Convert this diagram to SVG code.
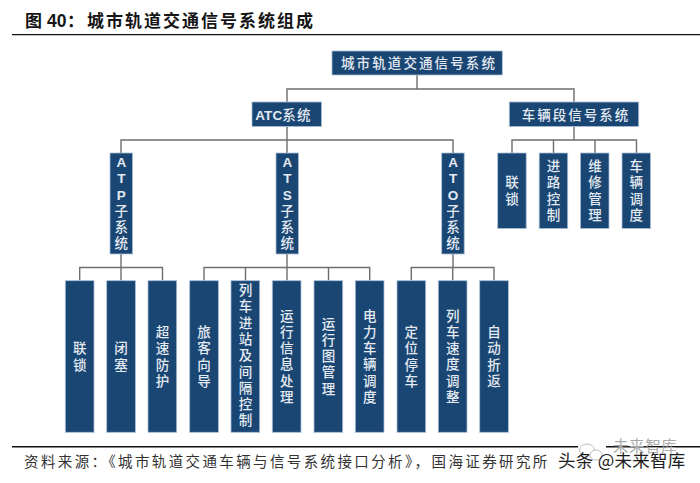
<svg xmlns="http://www.w3.org/2000/svg" width="700" height="483" viewBox="0 0 700 483">
<style>
text{font-family:"Noto Sans CJK SC","Noto Sans",sans-serif}
.n{fill:#1a4674;stroke:#a9bfd6;stroke-width:.8}
.t{fill:#e4eaf1;font-size:13.500px;font-weight:500;text-anchor:middle}
.l{font-weight:700;font-family:"Liberation Sans",sans-serif}
.c{fill:none;stroke:#6e6e6e;stroke-width:1.4}
.r{stroke:#111;stroke-width:1.4}
.w{fill:#fff;stroke:#b5b5b5;stroke-width:.9}
</style>
<rect width="700" height="483" fill="#fff"/>
<text y="26.500" font-size="17" font-weight="700" fill="#151515"><tspan x="25">图</tspan><tspan class="l" x="47" font-size="17.500">40</tspan><tspan x="67">：</tspan></text>
<text x="87" y="26.500" font-size="17" font-weight="700" fill="#151515" letter-spacing="2">城市轨道交通信号系统组成</text>
<line class="r" x1="12" y1="34.600" x2="700" y2="34.600"/>
<g id="connectors">
<path class="c" d="M417 75V89M287 102V89H574V102"/>
<path class="c" d="M287 126.500V153M121 153V140H453V153"/>
<path class="c" d="M574 126.500V140M512 153V140H636.500V153M553.500 140V153M595 140V153"/>
<path class="c" d="M121 254V267.500M79.700 280.700V267.500H162.500V280.700M121 267.500V280.700"/>
<path class="c" d="M287 254V267.500M204 280.700V267.500H369.700V280.700M245.500 267.500V280.700M287 267.500V280.700M328.500 267.500V280.700"/>
<path class="c" d="M453 254V267.500M411.300 280.700V267.500H494V280.700M452.700 267.500V280.700"/>
</g>
<g id="root"><rect class="n" x="332" y="51" width="170.300" height="24"/><text class="t" x="419" y="68" letter-spacing="2.100">城市轨道交通信号系统</text></g>
<g id="atc"><rect class="n" x="252" y="102" width="69.500" height="24.500"/><text class="t" x="283.500" y="119.500" letter-spacing="1.200"><tspan class="l" letter-spacing=".1">ATC</tspan>系统</text></g>
<g id="depot"><rect class="n" x="509.300" y="102" width="129.400" height="24.500"/><text class="t" x="576" y="119.500" letter-spacing="2">车辆段信号系统</text></g>
<g id="atp"><rect class="n" x="110" y="153" width="22.500" height="101"/><text class="t" y="167"><tspan class="l" x="121.300">A</tspan><tspan class="l" x="121.300" dy="16">T</tspan><tspan class="l" x="121.300" dy="16.500">P</tspan><tspan x="121.300" dy="16.500">子</tspan><tspan x="121.300" dy="16">系</tspan><tspan x="121.300" dy="16">统</tspan></text></g>
<g id="ats"><rect class="n" x="276" y="153" width="22.500" height="101"/><text class="t" y="167"><tspan class="l" x="287.300">A</tspan><tspan class="l" x="287.300" dy="16">T</tspan><tspan class="l" x="287.300" dy="16.500">S</tspan><tspan x="287.300" dy="16.500">子</tspan><tspan x="287.300" dy="16">系</tspan><tspan x="287.300" dy="16">统</tspan></text></g>
<g id="ato"><rect class="n" x="441.700" y="153" width="22.500" height="101"/><text class="t" y="167"><tspan class="l" x="453">A</tspan><tspan class="l" x="453" dy="16">T</tspan><tspan class="l" x="453" dy="16.500">O</tspan><tspan x="453" dy="16.500">子</tspan><tspan x="453" dy="16">系</tspan><tspan x="453" dy="16">统</tspan></text></g>
<g id="d1"><rect class="n" x="497.700" y="153" width="28.500" height="75.500"/><text class="t" y="187"><tspan x="512">联</tspan><tspan x="512" dy="16.500">锁</tspan></text></g>
<g id="d2"><rect class="n" x="539.200" y="153" width="28.500" height="75.500"/><text class="t" y="170.500"><tspan x="553.500">进</tspan><tspan x="553.500" dy="16.500">路</tspan><tspan x="553.500" dy="16.500">控</tspan><tspan x="553.500" dy="16.500">制</tspan></text></g>
<g id="d3"><rect class="n" x="580.500" y="153" width="28.500" height="75.500"/><text class="t" y="170.500"><tspan x="595">维</tspan><tspan x="595" dy="16.500">修</tspan><tspan x="595" dy="16.500">管</tspan><tspan x="595" dy="16.500">理</tspan></text></g>
<g id="d4"><rect class="n" x="622" y="153" width="28.500" height="75.500"/><text class="t" y="170.500"><tspan x="636.300">车</tspan><tspan x="636.300" dy="16.500">辆</tspan><tspan x="636.300" dy="16.500">调</tspan><tspan x="636.300" dy="16.500">度</tspan></text></g>
<g id="b1"><rect class="n" x="65.300" y="280.700" width="28.700" height="151.600"/><text class="t" y="353"><tspan x="79.700">联</tspan><tspan x="79.700" dy="16.500">锁</tspan></text></g>
<g id="b2"><rect class="n" x="106.700" y="280.700" width="28.700" height="151.600"/><text class="t" y="353"><tspan x="121">闭</tspan><tspan x="121" dy="16.500">塞</tspan></text></g>
<g id="b3"><rect class="n" x="148" y="280.700" width="28.700" height="151.600"/><text class="t" y="337"><tspan x="162.400">超</tspan><tspan x="162.400" dy="16.300">速</tspan><tspan x="162.400" dy="16.300">防</tspan><tspan x="162.400" dy="16.300">护</tspan></text></g>
<g id="b4"><rect class="n" x="189.700" y="280.700" width="28.700" height="151.600"/><text class="t" y="337"><tspan x="204">旅</tspan><tspan x="204" dy="16.300">客</tspan><tspan x="204" dy="16.300">向</tspan><tspan x="204" dy="16.300">导</tspan></text></g>
<g id="b5"><rect class="n" x="231" y="280.700" width="28.700" height="151.600"/><text class="t" y="295"><tspan x="245.400">列</tspan><tspan x="245.400" dy="16.300">车</tspan><tspan x="245.400" dy="16.300">进</tspan><tspan x="245.400" dy="16.300">站</tspan><tspan x="245.400" dy="16.300">及</tspan><tspan x="245.400" dy="16.300">间</tspan><tspan x="245.400" dy="16.300">隔</tspan><tspan x="245.400" dy="16.300">控</tspan><tspan x="245.400" dy="16.300">制</tspan></text></g>
<g id="b6"><rect class="n" x="272.300" y="280.700" width="28.700" height="151.600"/><text class="t" y="320.500"><tspan x="286.700">运</tspan><tspan x="286.700" dy="16.300">行</tspan><tspan x="286.700" dy="16.300">信</tspan><tspan x="286.700" dy="16.300">息</tspan><tspan x="286.700" dy="16.300">处</tspan><tspan x="286.700" dy="16.300">理</tspan></text></g>
<g id="b7"><rect class="n" x="314" y="280.700" width="28.700" height="151.600"/><text class="t" y="328.500"><tspan x="328.400">运</tspan><tspan x="328.400" dy="16.300">行</tspan><tspan x="328.400" dy="16.300">图</tspan><tspan x="328.400" dy="16.300">管</tspan><tspan x="328.400" dy="16.300">理</tspan></text></g>
<g id="b8"><rect class="n" x="355.300" y="280.700" width="28.700" height="151.600"/><text class="t" y="320.500"><tspan x="369.700">电</tspan><tspan x="369.700" dy="16.300">力</tspan><tspan x="369.700" dy="16.300">车</tspan><tspan x="369.700" dy="16.300">辆</tspan><tspan x="369.700" dy="16.300">调</tspan><tspan x="369.700" dy="16.300">度</tspan></text></g>
<g id="b9"><rect class="n" x="397" y="280.700" width="28.700" height="151.600"/><text class="t" y="337"><tspan x="411.300">定</tspan><tspan x="411.300" dy="16.300">位</tspan><tspan x="411.300" dy="16.300">停</tspan><tspan x="411.300" dy="16.300">车</tspan></text></g>
<g id="b10"><rect class="n" x="438.300" y="280.700" width="28.700" height="151.600"/><text class="t" y="320.500"><tspan x="452.700">列</tspan><tspan x="452.700" dy="16.300">车</tspan><tspan x="452.700" dy="16.300">速</tspan><tspan x="452.700" dy="16.300">度</tspan><tspan x="452.700" dy="16.300">调</tspan><tspan x="452.700" dy="16.300">整</tspan></text></g>
<g id="b11"><rect class="n" x="479.700" y="280.700" width="28.700" height="151.600"/><text class="t" y="337"><tspan x="494">自</tspan><tspan x="494" dy="16.300">动</tspan><tspan x="494" dy="16.300">折</tspan><tspan x="494" dy="16.300">返</tspan></text></g>
<line class="r" x1="12" y1="446.800" x2="700" y2="446.800"/>
<text x="24" y="467" font-size="14.500" fill="#333" letter-spacing="2.380">资料来源：《城市轨道交通车辆与信号系统接口分析》，国海证券研究所</text>
<rect x="578" y="444" width="28" height="6" fill="#fff"/>
<ellipse class="w" cx="587" cy="450" rx="7.500" ry="6"/>
<ellipse class="w" cx="596" cy="455" rx="6" ry="5"/>
<text x="613" y="452" font-size="15.500" fill="#aaa" letter-spacing=".6">未来智库</text>
<text x="558" y="467" font-size="17.500" fill="#1c1c1c" letter-spacing=".25">头条 @未来智库</text>
</svg>
